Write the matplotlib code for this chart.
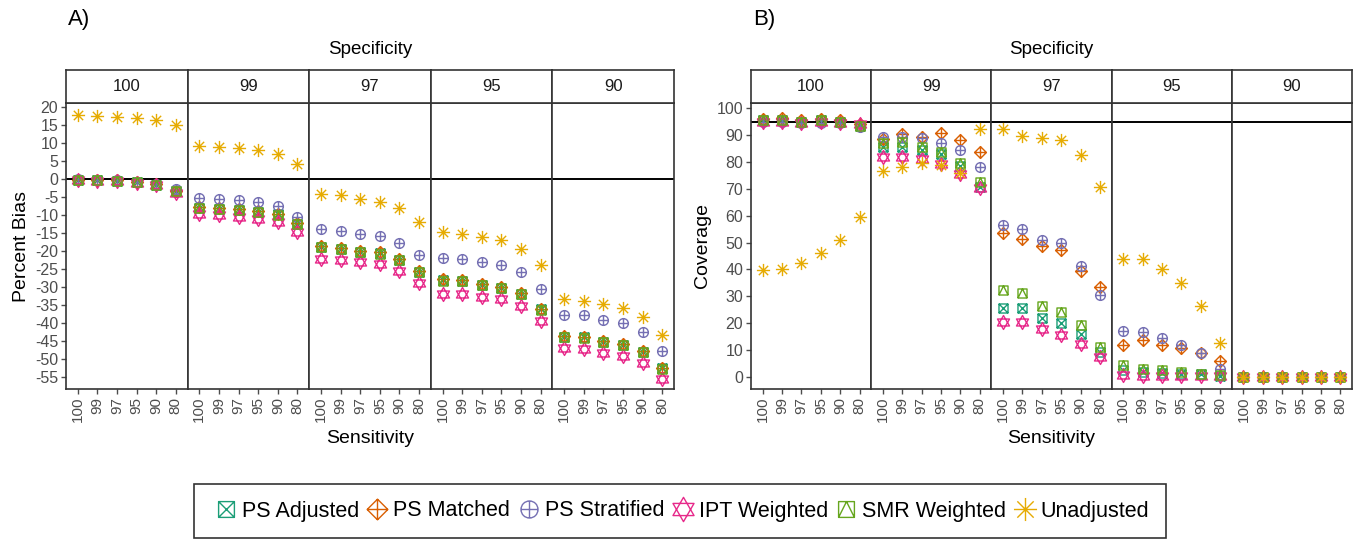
import matplotlib
matplotlib.use("Agg")
import matplotlib.pyplot as plt
from matplotlib.path import Path
from matplotlib.lines import Line2D
import numpy as np

plt.rcParams['font.family'] = ['Liberation Sans', 'DejaVu Sans']

# ---------------- data ----------------
specificity = ["100", "99", "97", "95", "90"]
sensitivity = ["100", "99", "97", "95", "90", "80"]
methods = ["PS Adjusted", "PS Matched", "PS Stratified", "IPT Weighted", "SMR Weighted", "Unadjusted"]
colors = ["#1B9E77", "#D95F02", "#7570B3", "#E7298A", "#66A61E", "#E6AB02"]

# Percent bias: rows = specificity facets, columns = sensitivity
bias_ps_adjusted = [[-0.3, -0.4, -0.5, -0.9, -1.6, -3.4],
                    [-8.0, -8.3, -8.6, -9.1, -9.8, -12.5],
                    [-18.8, -19.4, -20.2, -20.6, -22.5, -25.7],
                    [-28.1, -28.2, -29.3, -30.2, -31.8, -36.2],
                    [-43.8, -44.0, -45.2, -46.1, -48.0, -52.6]]
bias_ps_matched = [[-0.2, -0.3, -0.4, -0.8, -1.5, -3.2],
                   [-7.8, -8.1, -8.4, -8.9, -9.6, -12.3],
                   [-18.6, -19.2, -20.0, -20.4, -22.3, -25.5],
                   [-27.9, -28.0, -29.1, -30.0, -31.6, -36.0],
                   [-43.6, -43.8, -45.0, -45.9, -47.8, -52.4]]
bias_ps_stratified = [[-0.1, -0.2, -0.3, -0.7, -1.3, -2.8],
                      [-5.2, -5.5, -5.8, -6.5, -7.5, -10.5],
                      [-14.0, -14.4, -15.3, -15.7, -17.7, -21.1],
                      [-22.0, -22.3, -23.0, -23.9, -25.9, -30.6],
                      [-37.8, -37.8, -39.2, -40.1, -42.4, -47.7]]
bias_ipt_weighted = [[-0.4, -0.5, -0.6, -1.0, -1.8, -3.8],
                     [-9.8, -10.0, -10.5, -11.1, -12.0, -14.6],
                     [-22.2, -22.5, -23.1, -23.7, -25.5, -28.8],
                     [-31.8, -31.9, -32.7, -33.3, -35.2, -39.4],
                     [-47.0, -47.2, -48.4, -49.2, -51.2, -55.6]]
bias_smr_weighted = [[-0.3, -0.4, -0.5, -0.9, -1.6, -3.4],
                     [-8.1, -8.4, -8.7, -9.2, -9.9, -12.6],
                     [-18.9, -19.5, -20.3, -20.7, -22.6, -25.8],
                     [-28.2, -28.3, -29.4, -30.3, -31.9, -36.3],
                     [-43.9, -44.1, -45.3, -46.2, -48.1, -52.7]]
bias_unadjusted = [[17.8, 17.6, 17.3, 17.0, 16.4, 15.0],
                   [9.3, 9.0, 8.5, 8.0, 7.0, 4.2],
                   [-4.3, -4.4, -5.6, -6.3, -8.1, -11.9],
                   [-14.8, -15.3, -16.0, -16.9, -19.3, -23.9],
                   [-33.4, -33.8, -34.8, -35.9, -38.2, -43.3]]

# Coverage
cov_ps_adjusted = [[95.5, 95.5, 95.0, 95.5, 95.0, 93.5],
                   [85.4, 85.4, 84.4, 82.8, 78.5, 70.5],
                   [25.5, 25.5, 22.0, 19.9, 16.0, 9.4],
                   [2.6, 1.7, 1.5, 1.2, 0.9, 0.5],
                   [0.0, 0.0, 0.0, 0.0, 0.0, 0.0]]
cov_ps_matched = [[96.0, 96.5, 95.5, 96.0, 95.5, 94.0],
                  [88.5, 90.3, 89.1, 90.8, 88.1, 83.5],
                  [53.4, 51.2, 48.8, 47.2, 39.5, 33.6],
                  [11.9, 13.8, 11.9, 10.7, 9.0, 5.9],
                  [0.0, 0.0, 0.0, 0.0, 0.0, 0.0]]
cov_ps_stratified = [[95.0, 95.0, 94.5, 94.5, 94.5, 93.0],
                     [89.3, 89.3, 88.7, 87.0, 84.4, 78.2],
                     [56.5, 54.9, 50.9, 49.7, 41.4, 30.5],
                     [17.2, 16.8, 14.4, 11.9, 9.0, 2.9],
                     [0.0, 0.0, 0.0, 0.0, 0.0, 0.0]]
cov_ipt_weighted = [[95.0, 95.0, 94.5, 95.0, 94.5, 94.0],
                    [81.9, 81.7, 80.9, 79.2, 75.5, 70.1],
                    [20.6, 20.3, 17.7, 15.6, 12.3, 7.5],
                    [0.8, 0.3, 0.3, 0.2, 0.2, 0.2],
                    [0.0, 0.0, 0.0, 0.0, 0.0, 0.0]]
cov_smr_weighted = [[95.5, 95.5, 95.0, 95.5, 95.0, 93.5],
                    [87.0, 87.5, 85.5, 83.5, 79.5, 72.5],
                    [32.3, 31.1, 26.4, 24.3, 19.3, 11.3],
                    [4.5, 2.9, 2.6, 2.0, 1.1, 0.7],
                    [0.0, 0.0, 0.0, 0.0, 0.0, 0.0]]
cov_unadjusted = [[39.8, 40.1, 42.3, 46.2, 50.9, 59.6],
                  [76.6, 78.2, 79.4, 79.0, 76.0, 92.1],
                  [92.1, 89.6, 89.0, 88.1, 82.5, 70.7],
                  [43.9, 43.9, 40.0, 35.1, 26.4, 12.5],
                  [0.0, 0.0, 0.0, 0.0, 0.0, 0.0]]

bias_data = [bias_ps_adjusted, bias_ps_matched, bias_ps_stratified,
             bias_ipt_weighted, bias_smr_weighted, bias_unadjusted]
cov_data = [cov_ps_adjusted, cov_ps_matched, cov_ps_stratified,
            cov_ipt_weighted, cov_smr_weighted, cov_unadjusted]

bias_ticks = list(range(-55, 21, 5))
cov_ticks = list(range(0, 101, 10))


# ---------------- markers (ggplot shapes 7, 9, 10, 11, 14, 8) ----------------
def poly(pts, closed=False):
    verts = list(pts)
    codes = [Path.MOVETO] + [Path.LINETO] * (len(pts) - 1)
    if closed:
        verts.append(pts[0])
        codes.append(Path.CLOSEPOLY)
    return Path(verts, codes)


sq = poly([(-1, -1), (1, -1), (1, 1), (-1, 1)], True)
m_square_cross = Path.make_compound_path(sq, poly([(-1, -1), (1, 1)]), poly([(-1, 1), (1, -1)]))
m_diamond_plus = Path.make_compound_path(poly([(0, -1), (1, 0), (0, 1), (-1, 0)], True),
                                         poly([(0, -1), (0, 1)]), poly([(-1, 0), (1, 0)]))
m_circle_plus = Path.make_compound_path(Path.unit_circle(), poly([(0, -1), (0, 1)]), poly([(-1, 0), (1, 0)]))
h = 0.866
m_star_david = Path.make_compound_path(poly([(0, 1), (-h, -0.5), (h, -0.5)], True),
                                       poly([(0, -1), (-h, 0.5), (h, 0.5)], True))
m_square_tri = Path.make_compound_path(sq, poly([(-1, -1), (0, 1), (1, -1)]))
d = 0.7071
m_asterisk = Path.make_compound_path(poly([(0, -1), (0, 1)]), poly([(-1, 0), (1, 0)]),
                                     poly([(-d, -d), (d, d)]), poly([(-d, d), (d, -d)]))
markers = [m_square_cross, m_diamond_plus, m_circle_plus, m_star_david, m_square_tri, m_asterisk]
msizes = [6.5, 8.5, 7.0, 10.0, 6.5, 9.5]

# ---------------- layout ----------------
W, H = 1360, 540
fig = plt.figure(figsize=(W / 100, H / 100), dpi=100)


def rect(l, t, r, b):
    return [l / W, 1 - b / H, (r - l) / W, (b - t) / H]


tick_col = "#4D4D4D"
border_col = "#333333"


def draw_panel(left, right, data, ylim, yticks, ylabel, hline, letter):
    n = len(specificity)
    fw = (right - left) / n
    top, bottom, strip_top = 103, 389, 70
    x = np.arange(1, len(sensitivity) + 1)
    for i, spec in enumerate(specificity):
        l = left + i * fw
        ax = fig.add_axes(rect(l, top, l + fw, bottom))
        ax.set_xlim(0.4, 6.6)
        ax.set_ylim(*ylim)
        ax.axhline(hline, color="black", lw=1.4, zorder=1)
        for k, m in enumerate(methods):
            ax.plot(x, data[k][i], linestyle="none", marker=markers[k], ms=msizes[k],
                    mfc="none", mec=colors[k], mew=1.0, zorder=3 + k)
        ax.set_xticks(x)
        ax.set_xticklabels(sensitivity, rotation=90, fontsize=11, color=tick_col)
        ax.set_yticks(yticks)
        if i == 0:
            ax.set_yticklabels([str(t) for t in yticks], fontsize=11.5, color=tick_col)
            ax.set_ylabel(ylabel, fontsize=14, labelpad=4)
        else:
            ax.tick_params(axis="y", left=False, labelleft=False)
        ax.tick_params(axis="both", length=3.5, width=1, color=tick_col, pad=2)
        for s in ax.spines.values():
            s.set_color(border_col)
            s.set_linewidth(1.2)
        if i == 2:
            ax.set_xlabel("Sensitivity", fontsize=14, labelpad=6)
        # strip
        sax = fig.add_axes(rect(l, strip_top, l + fw, top))
        sax.set_xticks([])
        sax.set_yticks([])
        for s in sax.spines.values():
            s.set_color(border_col)
            s.set_linewidth(1.2)
        sax.text(0.5, 0.5, spec, ha="center", va="center", fontsize=12, color="#1A1A1A",
                 transform=sax.transAxes)
    fig.text((left + right) / 2 / W, 1 - 50 / H, "Specificity", ha="center", va="center", fontsize=13.5)
    fig.text((left + 2) / W, 1 - 20 / H, letter, ha="left", va="center", fontsize=16)


draw_panel(66, 674, bias_data, (-58.3, 21.1), bias_ticks, "Percent Bias", 0, "A)")
draw_panel(751, 1352, cov_data, (-4.5, 101.9), cov_ticks, "Coverage", 95, "B)")

# legend
handles = [Line2D([], [], linestyle="none", marker=markers[k], ms=msizes[k] * 1.75,
                  mfc="none", mec=colors[k], mew=1.0) for k in range(len(methods))]
leg = fig.legend(handles, methods, loc="center", bbox_to_anchor=(680 / W, 1 - 511 / H), ncol=6,
                 fontsize=15.5, frameon=True, fancybox=False, edgecolor="black",
                 handletextpad=0.05, columnspacing=0.15, handlelength=1.4, borderpad=0.75)
leg.get_frame().set_linewidth(1.2)

fig.savefig("out.png", dpi=100, facecolor="white")
